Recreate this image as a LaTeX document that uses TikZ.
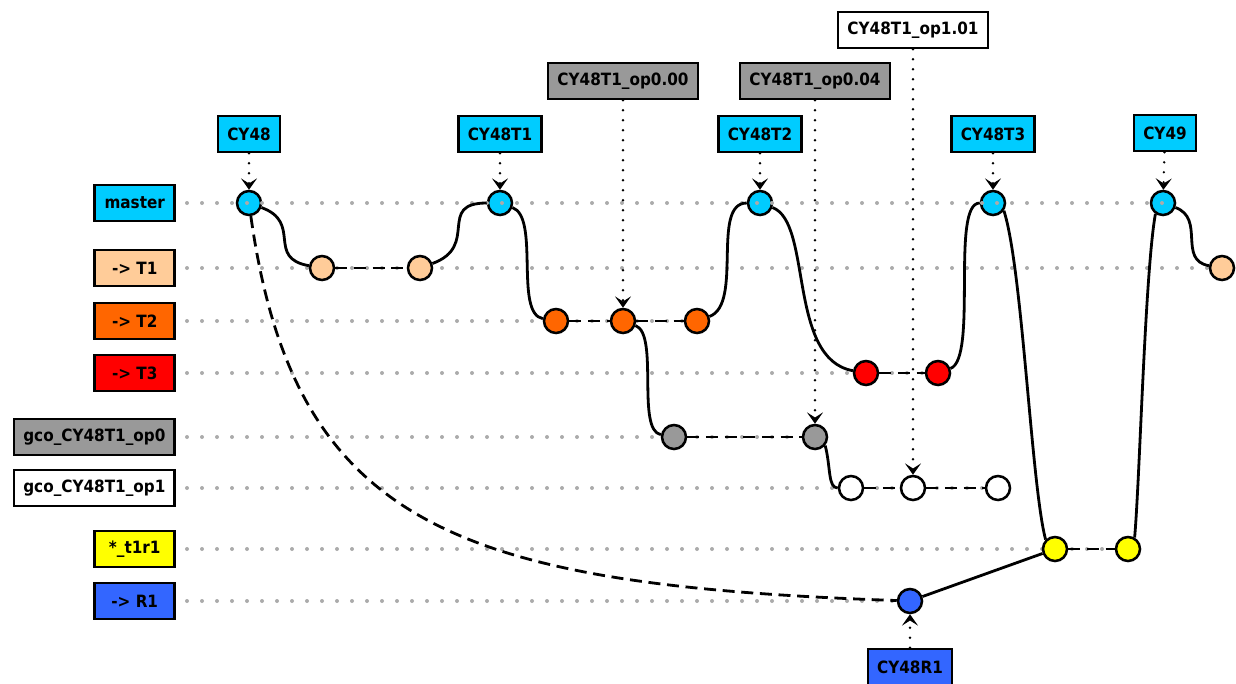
\documentclass[tikz,border=0pt]{standalone}
\usepackage{fontspec}
\setmainfont{DejaVu Sans}[FakeStretch=0.9]
\usetikzlibrary{arrows.meta,backgrounds}

\definecolor{cyanc}{HTML}{00CCFF}
\definecolor{peachc}{HTML}{FFCC99}
\definecolor{orangec}{HTML}{FF6600}
\definecolor{redc}{HTML}{FF0000}
\definecolor{grayc}{HTML}{999999}
\definecolor{yellowc}{HTML}{FFFF00}
\definecolor{bluec}{HTML}{3366FF}

\tikzset{
  lbl/.style={draw, line width=1.9pt, minimum height=27pt, minimum width=60pt, inner xsep=7pt, anchor=east},
  tagbox/.style={draw, line width=1.9pt, minimum height=27pt, inner xsep=7pt},
  commit/.style={circle, draw, line width=1.9pt, minimum size=18pt, inner sep=0pt},
  row/.style={black!33, line width=3pt, line cap=round, dash pattern=on 0pt off 11.25pt},
  branch/.style={line width=2.1pt},
  same/.style={line width=2.1pt, dash pattern=on 9pt off 5pt},
  pointer/.style={line width=2pt, line cap=round, dash pattern=on 0pt off 7.5pt,
    -{Stealth[length=8.5pt,width=12pt,inset=3.8pt]}},
  forkdown/.style={out=-20, in=170},
  mergeup/.style={out=20, in=180},
}

\begin{document}
\begin{tikzpicture}[x=0.75pt, y=0.75pt, font=\fontsize{12.7}{15}\selectfont\bfseries]
            \useasboundingbox (0,0) rectangle (1236,-683);
            % Branch labels
            \node[lbl, fill=cyanc] (lmaster) at (176,-203) {master};
            \node[lbl, fill=peachc] (lt1) at (176,-268) {-> T1};
            \node[lbl, fill=orangec] (lt2) at (176,-321) {-> T2};
            \node[lbl, fill=redc] (lt3) at (176,-373) {-> T3};
            \node[lbl, fill=grayc] (lop0) at (176,-437) {gco\_CY48T1\_op0};
            \node[lbl, fill=white] (lop1) at (176,-488) {gco\_CY48T1\_op1};
            \node[lbl, fill=yellowc] (lr1r) at (176,-549) {*\_t1r1};
            \node[lbl, fill=bluec] (lr1) at (176,-601) {-> R1};
            % Commits
            \node[commit, fill=cyanc] (m1) at (249,-203) {};
            \node[commit, fill=cyanc] (m2) at (500,-203) {};
            \node[commit, fill=cyanc] (m3) at (760,-203) {};
            \node[commit, fill=cyanc] (m4) at (993,-203) {};
            \node[commit, fill=cyanc] (m5) at (1163,-203) {};
            \node[commit, fill=peachc] (a1) at (322,-268) {};
            \node[commit, fill=peachc] (a2) at (420,-268) {};
            \node[commit, fill=peachc] (a3) at (1222,-268) {};
            \node[commit, fill=orangec] (b1) at (556,-321) {};
            \node[commit, fill=orangec] (b2) at (623,-321) {};
            \node[commit, fill=orangec] (b3) at (697,-321) {};
            \node[commit, fill=redc] (c1) at (866,-373) {};
            \node[commit, fill=redc] (c2) at (938,-373) {};
            \node[commit, fill=grayc] (g1) at (674,-437) {};
            \node[commit, fill=grayc] (g2) at (815,-437) {};
            \node[commit, fill=white] (w1) at (851,-488) {};
            \node[commit, fill=white] (w2) at (913,-488) {};
            \node[commit, fill=white] (w3) at (998,-488) {};
            \node[commit, fill=yellowc] (y1) at (1055,-549) {};
            \node[commit, fill=yellowc] (y2) at (1128,-549) {};
            \node[commit, fill=bluec] (r1) at (910,-601) {};
            % Tags
            \node[tagbox, fill=cyanc] (tcy48) at (249,-134) {CY48};
            \node[tagbox, fill=cyanc] (tcy48t1) at (500,-134) {CY48T1};
            \node[tagbox, fill=cyanc] (tcy48t2) at (760,-134) {CY48T2};
            \node[tagbox, fill=cyanc] (tcy48t3) at (993,-134) {CY48T3};
            \node[tagbox, fill=cyanc] (tcy49) at (1165,-133) {CY49};
            \node[tagbox, fill=grayc] (top000) at (623,-81) {CY48T1\_op0.00};
            \node[tagbox, fill=grayc] (top004) at (815,-81) {CY48T1\_op0.04};
            \node[tagbox, fill=white] (top101) at (913,-30) {CY48T1\_op1.01};
            \node[tagbox, fill=bluec] (tcy48r1) at (910,-667) {CY48R1};
            % Guide rows
            \draw[row] ([xshift=8.25pt]lmaster.east) -- (m5.center);
            \begin{scope}[on background layer]
                \draw[row] ([xshift=8.25pt]lt1.east) -- (a3);
                \draw[row] ([xshift=8.25pt]lt2.east) -- (b3);
                \draw[row] ([xshift=8.25pt]lt3.east) -- (c2);
                \draw[row] ([xshift=8.25pt]lop0.east) -- (g2);
                \draw[row] ([xshift=8.25pt]lop1.east) -- (w3);
                \draw[row] ([xshift=8.25pt]lr1r.east) -- (y2);
                \draw[row] ([xshift=8.25pt]lr1.east) -- (r1);
            \end{scope}
            % History
            \draw[branch] (m1) to[forkdown, out distance=33pt, in distance=33pt] (a1);
            \draw[same] (a1) -- (a2);
            \draw[branch] (a2) to[mergeup, out distance=38pt, in distance=38pt] (m2);
            \draw[branch] (m2) to[forkdown, out distance=22pt, in distance=22pt] (b1);
            \draw[same] (b1) -- (b2) -- (b3);
            \draw[branch] (b3) to[mergeup, out distance=27pt, in distance=27pt] (m3);
            \draw[branch] (m3) to[forkdown, out distance=32pt, in distance=50pt] (c1);
            \draw[same] (c1) -- (c2);
            \draw[branch] (c2) to[mergeup, out distance=22pt, in distance=22pt] (m4);
            \draw[branch] (b2) to[forkdown, out distance=19pt, in distance=19pt] (g1);
            \draw[same] (g1) -- (g2);
            \draw[branch] (g2.-40) .. controls +(-75:22) and +(180:10) .. (w1.west);
            \draw[same] (w1) -- (w2) -- (w3);
            \draw[branch] (m4.-35) .. controls +(-72:60) and +(105:55) .. (y1.135);
            \draw[branch] (r1) -- (y1);
            \draw[same] (y1) -- (y2);
            \draw[branch] (y2.60) .. controls +(85:60) and +(-100:60) .. (m5.235);
            \draw[branch] (m5) to[forkdown, out distance=24pt, in distance=24pt] (a3);
            \draw[same] (m1) to[out=-82, in=178, out distance=235pt, in distance=330pt] (r1);
            % Tag pointers
            \draw[pointer] (tcy48) -- (m1);
            \draw[pointer] (tcy48t1) -- (m2);
            \draw[pointer] (tcy48t2) -- (m3);
            \draw[pointer] (tcy48t3) -- (m4);
            \draw[pointer] (tcy49) -- (m5);
            \draw[pointer] (top000) -- (b2);
            \draw[pointer] (top004) -- (g2);
            \draw[pointer] (top101) -- (w2);
            \draw[pointer] (tcy48r1) -- (r1);
\end{tikzpicture}
\end{document}
